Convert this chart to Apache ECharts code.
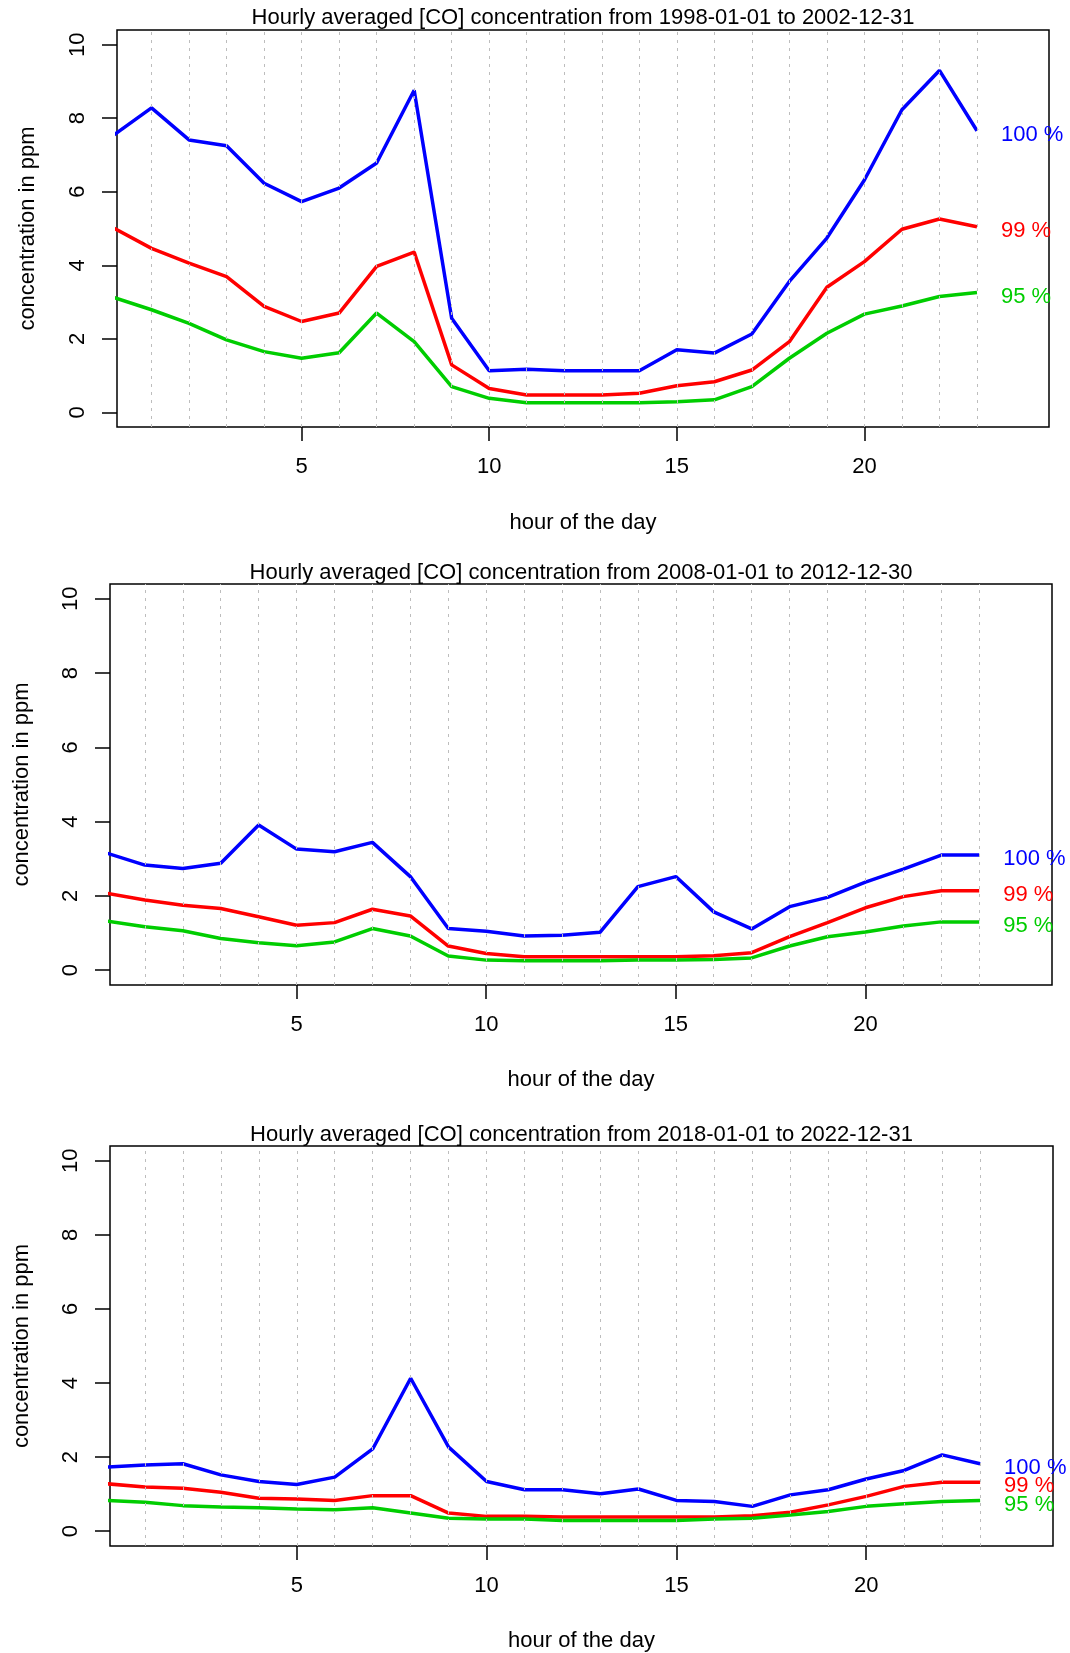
<!DOCTYPE html>
<html>
<head>
<meta charset="utf-8">
<script src="https://cdn.jsdelivr.net/npm/echarts@6/dist/echarts.min.js"></script>
<style>
  html, body { margin: 0; padding: 0; background: #ffffff; }
  #chart { width: 1070px; height: 1653px; }
</style>
</head>
<body>
<div id="chart"></div>
<script>
// Hour of the day for each sample
const hours = [0, 1, 2, 3, 4, 5, 6, 7, 8, 9, 10, 11, 12, 13, 14, 15, 16, 17, 18, 19, 20, 21, 22, 23];
// Hours that get a dotted guide line
const gridHours = [1, 2, 3, 4, 5, 6, 7, 8, 9, 10, 11, 12, 13, 14, 15, 16, 17, 18, 19, 20, 21, 22, 23];
const xTicks = [5, 10, 15, 20];
const yTicks = [0, 2, 4, 6, 8, 10];
const percentLabels = ['100 %', '99 %', '95 %'];

const titles = [
  'Hourly averaged [CO] concentration from 1998-01-01 to 2002-12-31',
  'Hourly averaged [CO] concentration from 2008-01-01 to 2012-12-30',
  'Hourly averaged [CO] concentration from 2018-01-01 to 2022-12-31'
];

// 1998-2002 (ppm)
const co1998Max = [7.55, 8.28, 7.41, 7.25, 6.23, 5.73, 6.10, 6.78, 8.76, 2.56, 1.13, 1.17, 1.13, 1.13, 1.13, 1.70, 1.61, 2.13, 3.56, 4.74, 6.32, 8.23, 9.30, 7.66];
const co1998Q99 = [5.01, 4.46, 4.06, 3.69, 2.88, 2.47, 2.70, 3.97, 4.36, 1.29, 0.65, 0.47, 0.47, 0.47, 0.52, 0.72, 0.83, 1.15, 1.92, 3.40, 4.10, 4.98, 5.26, 5.05];
const co1998Q95 = [3.12, 2.79, 2.42, 1.97, 1.65, 1.47, 1.62, 2.70, 1.92, 0.70, 0.38, 0.26, 0.26, 0.26, 0.26, 0.29, 0.34, 0.70, 1.47, 2.15, 2.67, 2.89, 3.15, 3.26];

// 2008-2012 (ppm)
const co2008Max = [3.15, 2.83, 2.74, 2.88, 3.91, 3.26, 3.19, 3.44, 2.52, 1.12, 1.05, 0.92, 0.94, 1.02, 2.25, 2.52, 1.57, 1.11, 1.71, 1.96, 2.37, 2.72, 3.10, 3.10];
const co2008Q99 = [2.07, 1.89, 1.75, 1.66, 1.44, 1.21, 1.28, 1.64, 1.46, 0.65, 0.45, 0.36, 0.36, 0.36, 0.36, 0.36, 0.39, 0.47, 0.90, 1.28, 1.68, 1.98, 2.14, 2.14];
const co2008Q95 = [1.32, 1.17, 1.06, 0.85, 0.74, 0.66, 0.76, 1.12, 0.92, 0.38, 0.27, 0.25, 0.25, 0.25, 0.27, 0.27, 0.29, 0.33, 0.65, 0.90, 1.03, 1.19, 1.30, 1.30];

// 2018-2022 (ppm)
const co2018Max = [1.73, 1.79, 1.82, 1.52, 1.34, 1.26, 1.46, 2.22, 4.13, 2.27, 1.34, 1.12, 1.12, 1.01, 1.14, 0.83, 0.80, 0.67, 0.98, 1.12, 1.41, 1.64, 2.06, 1.82];
const co2018Q99 = [1.28, 1.19, 1.16, 1.05, 0.89, 0.87, 0.83, 0.96, 0.96, 0.49, 0.40, 0.40, 0.38, 0.38, 0.38, 0.38, 0.38, 0.42, 0.51, 0.71, 0.94, 1.21, 1.32, 1.32];
const co2018Q95 = [0.83, 0.78, 0.69, 0.65, 0.63, 0.60, 0.58, 0.63, 0.49, 0.35, 0.33, 0.33, 0.29, 0.29, 0.29, 0.29, 0.33, 0.35, 0.44, 0.53, 0.67, 0.74, 0.80, 0.83];

const FONT = "'Liberation Sans', Arial, sans-serif";
const lineColors = ['#0000FF', '#FF0000', '#00CD00'];

// Layout of the three stacked plots
const panels = [
  { title: titles[0], values: [co1998Max, co1998Q99, co1998Q95],
    box: { left: 117, top: 30, width: 932, height: 397 }, titleTop: 7, yNameGap: 78, xNameGap: 85 },
  { title: titles[1], values: [co2008Max, co2008Q99, co2008Q95],
    box: { left: 110, top: 584, width: 942, height: 401 }, titleTop: 562, yNameGap: 77, xNameGap: 84 },
  { title: titles[2], values: [co2018Max, co2018Q99, co2018Q95],
    box: { left: 110, top: 1146, width: 943, height: 401 }, titleTop: 1124, yNameGap: 77, xNameGap: 84 }
];

const textBase = { fontFamily: FONT, fontSize: 22, color: '#000', fontWeight: 'normal' };

const option = {
  animation: false,
  backgroundColor: '#ffffff',
  title: [], grid: [], xAxis: [], yAxis: [], series: []
};

panels.forEach((p, i) => {
  option.title.push({
    text: p.title,
    left: p.box.left + p.box.width / 2,
    top: p.titleTop,
    padding: 0,
    textAlign: 'center',
    textStyle: Object.assign({}, textBase)
  });
  option.grid.push({
    left: p.box.left, top: p.box.top, width: p.box.width, height: p.box.height,
    show: true, borderColor: '#000', borderWidth: 1.5, backgroundColor: 'transparent'
  });
  option.xAxis.push({
    type: 'value', gridIndex: i, min: 0.08, max: 24.92, position: 'bottom',
    name: 'hour of the day', nameLocation: 'middle', nameGap: p.xNameGap,
    nameTextStyle: Object.assign({}, textBase),
    axisLine: { show: false, onZero: false },
    splitLine: { show: false },
    axisTick: { show: true, inside: false, customValues: xTicks, length: 14, lineStyle: { color: '#000', width: 1.5 } },
    axisLabel: Object.assign({ customValues: xTicks, margin: 29 }, textBase)
  });
  option.yAxis.push({
    type: 'value', gridIndex: i, min: -0.4, max: 10.4, position: 'left',
    name: 'concentration in ppm', nameLocation: 'middle', nameGap: p.yNameGap, nameRotate: 90,
    nameTextStyle: Object.assign({}, textBase),
    axisLine: { show: false, onZero: false },
    splitLine: { show: false },
    axisTick: { show: true, inside: false, customValues: yTicks, length: 15, lineStyle: { color: '#000', width: 1.5 } },
    axisLabel: Object.assign({ customValues: yTicks, rotate: 90, margin: 28 }, textBase)
  });
  // dotted hourly guides
  option.series.push({
    type: 'line', xAxisIndex: i, yAxisIndex: i, data: [], z: 1, silent: true,
    markLine: {
      silent: true, symbol: ['none', 'none'], label: { show: false },
      lineStyle: { type: [3, 5], color: '#bdbdbd', width: 1 },
      emphasis: { disabled: true },
      data: gridHours.map(h => ({ xAxis: h }))
    }
  });
  p.values.forEach((vals, k) => {
    option.series.push({
      type: 'line', name: percentLabels[k], xAxisIndex: i, yAxisIndex: i, z: 3,
      data: hours.map((h, j) => [h, vals[j]]),
      symbol: 'none', showSymbol: false, silent: true,
      lineStyle: { color: lineColors[k], width: 3.5 },
      itemStyle: { color: lineColors[k] },
      endLabel: {
        show: true, formatter: percentLabels[k], distance: 24, offset: [0, 4],
        fontFamily: FONT, fontSize: 22, color: lineColors[k]
      }
    });
  });
});

const chart = echarts.init(document.getElementById('chart'), null, { renderer: 'canvas' });
chart.setOption(option);
</script>
</body>
</html>
